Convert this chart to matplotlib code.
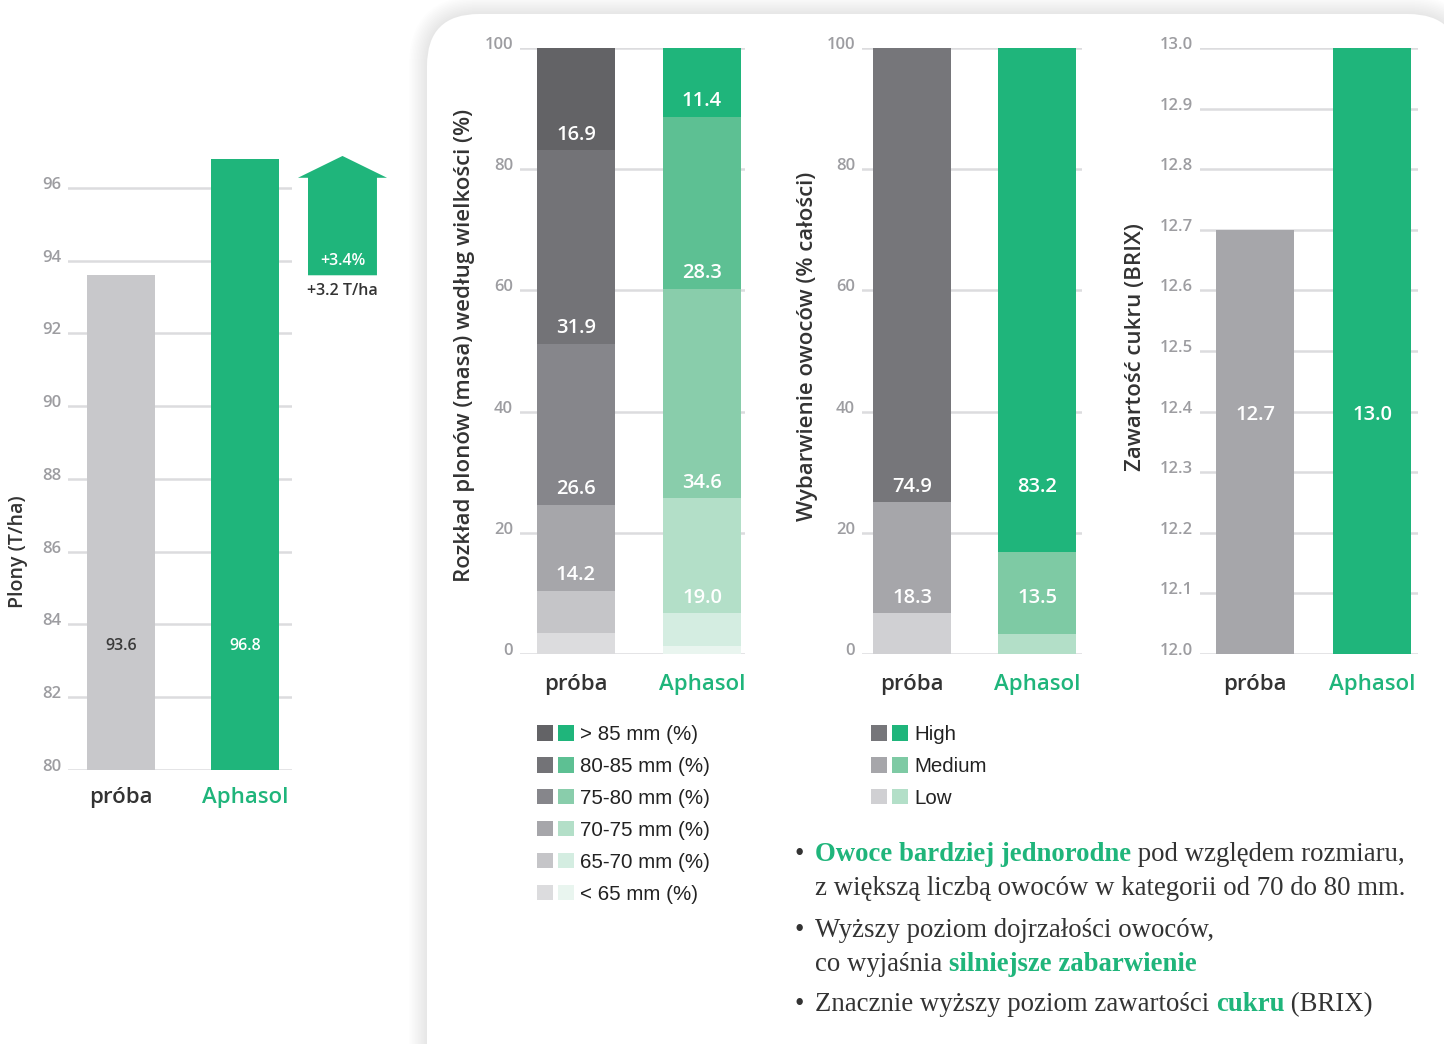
import matplotlib
matplotlib.use('Agg')
import matplotlib.pyplot as plt
import matplotlib.transforms as mtransforms
from matplotlib.patches import FancyBboxPatch, Patch, Polygon
from matplotlib.legend_handler import HandlerTuple
from matplotlib.text import Annotation

# ---------------- data ----------------
categories = ['próba', 'Aphasol']

yield_values = [93.6, 96.8]            # T/ha
yield_ticks = [80, 82, 84, 86, 88, 90, 92, 94, 96]

size_classes = ['> 85 mm (%)', '80-85 mm (%)', '75-80 mm (%)',
                '70-75 mm (%)', '65-70 mm (%)', '< 65 mm (%)']
size_proba = [16.9, 31.9, 26.6, 14.2, 6.9, 3.5]
size_aphasol = [11.4, 28.3, 34.6, 19.0, 5.3, 1.4]
size_labelled = [True, True, True, True, False, False]

colour_classes = ['High', 'Medium', 'Low']
colour_proba = [74.9, 18.3, 6.8]
colour_aphasol = [83.2, 13.5, 3.3]
colour_labelled = [True, True, False]

pct_ticks = [0, 20, 40, 60, 80, 100]

brix_values = [12.7, 13.0]
brix_ticks = [12.0, 12.1, 12.2, 12.3, 12.4, 12.5, 12.6, 12.7, 12.8, 12.9, 13.0]

# ---------------- style ----------------
W, H = 1444, 1044
GREEN = '#1fb57b'
DARK = '#333333'
TICK = '#9d9da1'
GRID = '#dcdcde'
SANS = ['Open Sans', 'DejaVu Sans']
ARIAL = ['Liberation Sans', 'DejaVu Sans']
SERIF = ['Liberation Serif', 'DejaVu Serif']

size_gray = ['#636366', '#737377', '#86868b', '#a6a6aa', '#c5c5c8', '#dcdcde']
size_green = ['#1fb57b', '#5dc093', '#89cdab', '#b3dfc8', '#d4ede1', '#e9f5ef']
colour_gray = ['#76767a', '#a6a6aa', '#d0d0d3']
colour_green = ['#1fb57b', '#7ecaa4', '#b3dfc8']

plt.rcParams['font.family'] = SANS

fig = plt.figure(figsize=(W / 100, H / 100), dpi=100)
fig.patch.set_facecolor('white')

# ---------------- card background ----------------
ident = mtransforms.IdentityTransform()
cx0, cy0, cx1, cy1 = 427, 14, 1460, 1120
for i in range(12, 0, -1):
    g = i * 1.5
    sh = FancyBboxPatch((cx0 - g, H - cy1 - g), (cx1 - cx0) + 2 * g, (cy1 - cy0) + 2 * g,
                        boxstyle='round,pad=0,rounding_size=%f' % (52 + g),
                        transform=ident, facecolor='#000000', edgecolor='none',
                        alpha=0.006, zorder=-20)
    fig.patches.append(sh)
card = FancyBboxPatch((cx0, H - cy1), cx1 - cx0, cy1 - cy0,
                      boxstyle='round,pad=0,rounding_size=52',
                      transform=ident, facecolor='white', edgecolor='none', zorder=-10)
fig.patches.append(card)


def px_axes(l, r, top, bottom):
    ax = fig.add_axes([l / W, 1 - bottom / H, (r - l) / W, (bottom - top) / H])
    ax.set_facecolor('none')
    for s in ax.spines.values():
        s.set_visible(False)
    ax.set_axisbelow(True)
    return ax


tick_shift = mtransforms.ScaledTranslation(0, 5 / 100, fig.dpi_scale_trans)


def style_axis(ax, ticks, fmt, xpad):
    ax.set_yticks(ticks)
    ax.set_yticklabels([fmt.format(t) for t in ticks])
    ax.grid(axis='y', color=GRID, linewidth=1.8)
    ax.tick_params(axis='y', length=0, pad=5, labelsize=12, labelcolor=TICK)
    ax.tick_params(axis='x', length=0, pad=xpad, labelsize=16)
    ax.set_xticks([0, 1])
    ax.set_xticklabels(categories)
    xl = ax.get_xticklabels()
    xl[0].set_color(DARK)
    xl[1].set_color(GREEN)
    for lab in xl:
        lab.set_fontweight('semibold')
    for lab in ax.get_yticklabels():
        lab.set_transform(lab.get_transform() + tick_shift)
        lab.set_fontweight('semibold')


# ---------------- panel 1: yield ----------------
ax1 = px_axes(68, 292, 151.6, 770)
ax1.set_xlim(-0.427, 1.379)
ax1.set_ylim(80, 97)
bars = ax1.bar([0, 1], [v - 80 for v in yield_values], bottom=80, width=0.548,
               color=['#c8c8cb', GREEN], zorder=2)
style_axis(ax1, yield_ticks, '{:d}', 12)
for i, v in enumerate(yield_values):
    ax1.text(i, 83.4, '{:.1f}'.format(v), ha='center', va='center', fontsize=11.5,
             weight='semibold', color='#3a3a3a' if i == 0 else 'white', zorder=3)
fig.text(18 / W, 1 - 552 / H, 'Plony (T/ha)', rotation=90, ha='center', va='center',
         fontsize=14, weight='semibold', color=DARK)

# arrow showing the gain
acx, hw, sw = 1.786, 0.359, 0.278
y0 = yield_values[0]
tip = yield_values[1] + 0.08
yb = tip - 0.6
arrow = Polygon([(acx - sw, y0), (acx + sw, y0), (acx + sw, yb), (acx + hw, yb),
                 (acx, tip), (acx - hw, yb), (acx - sw, yb)], closed=True,
                facecolor=GREEN, edgecolor='none', clip_on=False, zorder=3)
ax1.add_patch(arrow)
gain = yield_values[1] - yield_values[0]
ax1.text(acx, y0 + 0.38, '+{:.1f}%'.format(gain / yield_values[0] * 100), ha='center',
         va='center', color='white', fontsize=11.5, weight='semibold', clip_on=False, zorder=4)
ax1.text(acx, y0 - 0.43, '+{:.1f} T/ha'.format(gain), ha='center', va='center',
         color=DARK, fontsize=11.5, weight='semibold', clip_on=False, zorder=4)


# ---------------- stacked helper ----------------
def stacked(ax, series, colors_pair, labelled, align_rows, off):
    bottoms_all = []
    for j, vals in enumerate(series):
        bottoms = []
        b = 0.0
        for i in range(len(vals) - 1, -1, -1):
            bottoms.insert(0, b)
            b += vals[i]
        bottoms_all.append(bottoms)
        for i, v in enumerate(vals):
            ax.bar(j, v, bottom=bottoms[i], width=0.622, color=colors_pair[j][i],
                   zorder=2, linewidth=0)
    for i in range(len(series[0])):
        if not labelled[i]:
            continue
        for j, vals in enumerate(series):
            if align_rows:
                y = max(bb[i] for bb in bottoms_all) + off
            else:
                y = bottoms_all[j][i] + off
            ax.text(j, y, '{:.1f}'.format(vals[i]), ha='center', va='center',
                    color='white', fontsize=14.5, weight='semibold', zorder=3)


# ---------------- panel 2: size distribution ----------------
ax2 = px_axes(520, 745, 48, 654)
ax2.set_xlim(-0.444, 1.341)
ax2.set_ylim(0, 100)
stacked(ax2, [size_proba, size_aphasol], [size_gray, size_green], size_labelled, False, 2.6)
style_axis(ax2, pct_ticks, '{:d}', 14.5)
fig.text(465 / W, 1 - 345 / H, 'Rozkład plonów (masa) według wielkości (%)', rotation=90,
         ha='center', va='center', fontsize=16, weight='semibold', color=DARK)

# ---------------- panel 3: colouration ----------------
ax3 = px_axes(862, 1082, 48, 654)
ax3.set_xlim(-0.4, 1.36)
ax3.set_ylim(0, 100)
stacked(ax3, [colour_proba, colour_aphasol], [colour_gray, colour_green], colour_labelled,
        True, 2.4)
style_axis(ax3, pct_ticks, '{:d}', 14.5)
fig.text(808 / W, 1 - 346 / H, 'Wybarwienie owoców (% całości)', rotation=90,
         ha='center', va='center', fontsize=16, weight='semibold', color=DARK)

# ---------------- panel 4: brix ----------------
ax4 = px_axes(1200, 1418, 48, 654)
ax4.set_xlim(-0.47, 1.393)
ax4.set_ylim(12.0, 13.0)
ax4.bar([0, 1], [v - 12.0 for v in brix_values], bottom=12.0, width=0.667,
        color=['#a6a6aa', GREEN], zorder=2)
style_axis(ax4, brix_ticks, '{:.1f}', 14.5)
for i, v in enumerate(brix_values):
    ax4.text(i, 12.395, '{:.1f}'.format(v), ha='center', va='center', color='white',
             fontsize=14.5, weight='semibold', zorder=3)
fig.text(1135 / W, 1 - 347 / H, 'Zawartość cukru (BRIX)', rotation=90,
         ha='center', va='center', fontsize=16, weight='semibold', color=DARK)


# ---------------- legends ----------------
def pair_legend(x_px, y_px, labels, grays, greens):
    handles = [(Patch(facecolor=g, edgecolor='none'), Patch(facecolor=c, edgecolor='none'))
               for g, c in zip(grays, greens)]
    leg = fig.legend(handles, labels, loc='upper left',
                     bbox_to_anchor=(x_px / W, 1 - y_px / H),
                     handler_map={tuple: HandlerTuple(ndivide=None, pad=0.25)},
                     frameon=False, prop={'family': ARIAL, 'size': 14.8},
                     handlelength=1.8, handleheight=0.78, handletextpad=0.3,
                     labelspacing=0.63, borderpad=0, borderaxespad=0)
    for t in leg.get_texts():
        t.set_color('#222222')
    return leg


pair_legend(537, 725, size_classes, size_gray, size_green)
pair_legend(871, 725, colour_classes, colour_gray, colour_green)


# ---------------- bullet text ----------------
def rich_line(x_px, y_px, parts, bullet=False):
    kw = dict(fontsize=19.3, family=SERIF)
    if bullet:
        fig.text(795 / W, 1 - y_px / H, '•', ha='left', va='baseline', color=DARK, **kw)
    prev = None
    for s, hl in parts:
        style = dict(color=GREEN if hl else DARK, weight='bold' if hl else 'normal', **kw)
        if prev is None:
            prev = fig.text(x_px / W, 1 - y_px / H, s, ha='left', va='baseline', **style)
        else:
            ann = Annotation(s, xy=(1, 0), xycoords=prev, ha='left', va='bottom', **style)
            fig.add_artist(ann)
            prev = ann


rich_line(815, 861, [('Owoce bardziej jednorodne', True), (' pod względem rozmiaru,', False)], True)
rich_line(815, 895, [('z większą liczbą owoców w kategorii od 70 do 80 mm.', False)])
rich_line(815, 937, [('Wyższy poziom dojrzałości owoców,', False)], True)
rich_line(815, 971, [('co wyjaśnia ', False), ('silniejsze zabarwienie', True)])
rich_line(815, 1011, [('Znacznie wyższy poziom zawartości ', False), ('cukru', True),
                      (' (BRIX)', False)], True)

fig.savefig('out.png', dpi=100, facecolor='white')
